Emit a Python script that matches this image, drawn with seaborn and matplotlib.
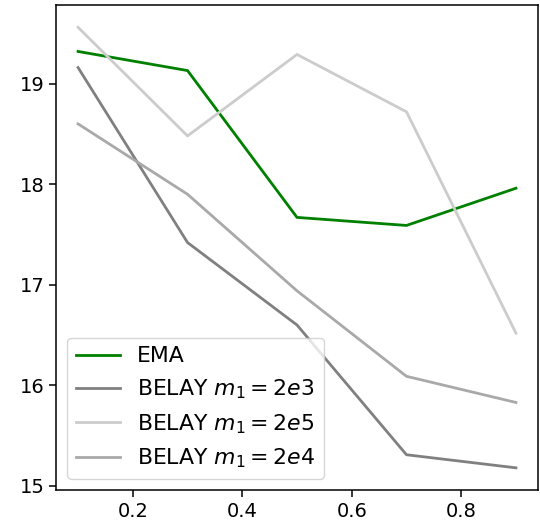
import pandas as pd
import seaborn as sns
import matplotlib.pyplot as plt

# valeurs
x = [0.1, 0.3, 0.5, 0.7, 0.9]
ema = [19.32, 19.13, 17.67, 17.59, 17.96]
belay_2e3 = [19.16, 17.42, 16.60, 15.31, 15.18]
belay_2e5 = [19.56, 18.48, 19.29, 18.72, 16.52]
belay_2e4 = [18.60, 17.90, 16.94, 16.09, 15.83]

labels = ['EMA', r'BELAY $m_1 = 2e3$', r'BELAY $m_1 = 2e5$', r'BELAY $m_1 = 2e4$']
colors = ['green', '#808080', '#cccccc', '#a9a9a9']

frames = []
for lab, vals in zip(labels, [ema, belay_2e3, belay_2e5, belay_2e4]):
    frames.append(pd.DataFrame({'x': x, 'y': vals, 'method': lab}))
df = pd.concat(frames, ignore_index=True)

fig = plt.figure(figsize=(5.4, 5.29), dpi=100)
ax = fig.add_axes([0.104, 0.074, 0.892, 0.916])

sns.lineplot(data=df, x='x', y='y', hue='method', hue_order=labels,
             palette=dict(zip(labels, colors)), linewidth=2.0, ax=ax)

ax.set_xlabel('')
ax.set_ylabel('')
ax.set_yticks([15, 16, 17, 18, 19])
ax.set_xticks([0.2, 0.4, 0.6, 0.8])
ax.tick_params(labelsize=14, length=5, width=1.1)
for s in ax.spines.values():
    s.set_linewidth(1.1)
ax.legend(loc='lower left', fontsize=15.8, title=None)

plt.savefig('out.png', dpi=100)
